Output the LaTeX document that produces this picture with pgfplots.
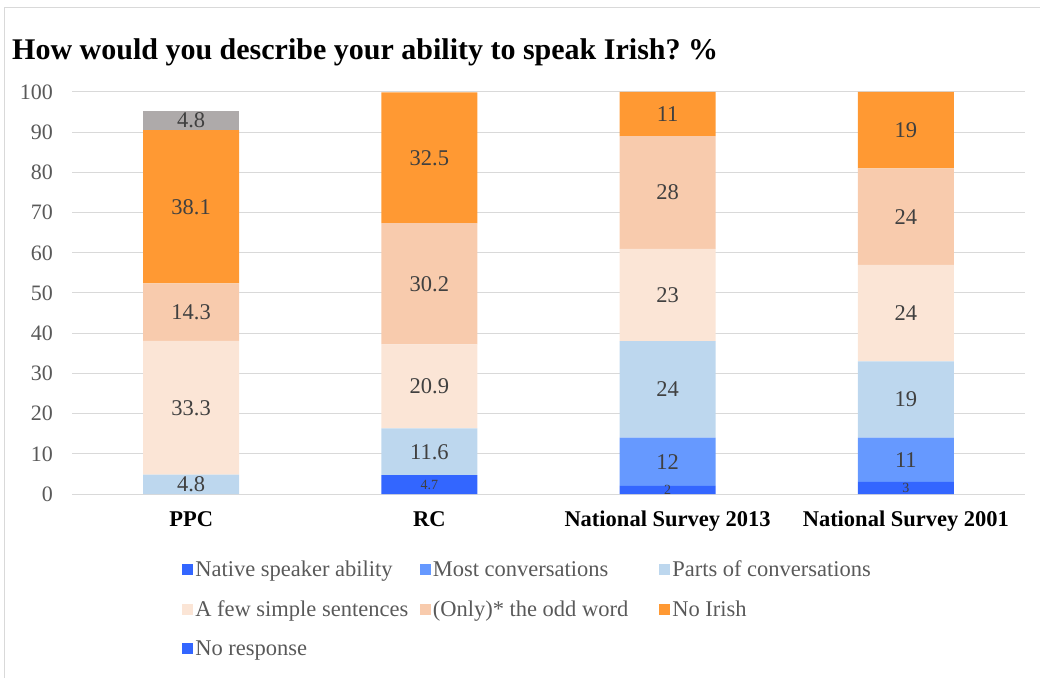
\documentclass[border=0pt]{standalone}
\usepackage{pgfplots}
\pgfplotsset{compat=1.18}
\usepackage{fontspec}
\setmainfont{Liberation Serif}
\frenchspacing
\definecolor{cNative}{RGB}{51,102,255}
\definecolor{cMost}{RGB}{102,153,255}
\definecolor{cParts}{RGB}{189,215,238}
\definecolor{cFew}{RGB}{251,229,214}
\definecolor{cOdd}{RGB}{248,203,173}
\definecolor{cNo}{RGB}{255,153,51}
\definecolor{cNR}{RGB}{174,170,170}
\definecolor{cGrid}{RGB}{217,217,217}
\definecolor{cTxt}{RGB}{89,89,89}
\definecolor{cLab}{RGB}{64,64,64}
\newcommand{\LE}[1]{\makebox[218pt][l]{#1}}
\newcommand{\LF}[1]{\makebox[220pt][l]{#1}}
\begin{document}
\begin{tikzpicture}[x=1pt,y=1pt]
\path[use as bounding box] (0,0) rectangle (1040,677);
\draw[cGrid, line width=1pt] (4,-5) -- (4,669) -- (1045,669);
\node[anchor=base west, inner sep=0pt, font=\fontsize{30}{34}\selectfont\bfseries] at (12,617) {How would you describe your ability to speak Irish? \%};
\begin{axis}[
  at={(72pt,183pt)}, anchor=south west,
  scale only axis, width=953pt, height=402pt,
  ybar stacked, bar width=96pt,
  xmin=-0.5, xmax=3.5, ymin=0, ymax=100,
  xtick={0,1,2,3},
  xticklabels={PPC,RC,National Survey 2013,National Survey 2001},
  xticklabel style={font=\fontsize{22.5}{26}\selectfont\bfseries, text=black, inner sep=0pt, yshift=-17pt},
  ytick={0,10,...,100},
  yticklabel style={font=\fontsize{22}{26}\selectfont, text=cTxt, inner sep=0pt, xshift=-19pt},
  /pgf/number format/assume math mode=true,
  major tick length=0pt,
  ymajorgrids, grid style={cGrid, line width=1pt},
  axis line style={draw=none},
  axis x line*=bottom, axis y line*=left,
  legend columns=3,
  legend cell align=left,
  legend style={at={(0.1155,-0.161)}, anchor=north west, draw=none, fill=none,
    font=\fontsize{22.5}{26}\selectfont, text=cTxt, inner sep=0pt, row sep=18.5pt,
    /tikz/every even column/.append style={column sep=4.5pt}},
  legend image code/.code={\fill[#1] (0pt,-5.5pt) rectangle (11pt,5.5pt);},
]
\addplot[fill=cNative, draw=none] coordinates {(0,0) (1,4.7) (2,2) (3,3)};
\addlegendentry{\LE{Native speaker ability}}
\addplot[fill=cMost, draw=none] coordinates {(0,0) (1,0) (2,12) (3,11)};
\addlegendentry{\LF{Most conversations}}
\addplot[fill=cParts, draw=none] coordinates {(0,4.8) (1,11.6) (2,24) (3,19)};
\addlegendentry{Parts of conversations}
\addplot[fill=cFew, draw=none] coordinates {(0,33.3) (1,20.9) (2,23) (3,24)};
\addlegendentry{\LE{A few simple sentences}}
\addplot[fill=cOdd, draw=none] coordinates {(0,14.3) (1,30.2) (2,28) (3,24)};
\addlegendentry{\LF{(Only)* the odd word}}
\addplot[fill=cNo, draw=none] coordinates {(0,38.1) (1,32.5) (2,11) (3,19)};
\addlegendentry{No Irish}
\addplot[fill=cNR, draw=none, legend image code/.code={\fill[cNative] (0pt,-5.5pt) rectangle (11pt,5.5pt);}] coordinates {(0,4.8) (1,0) (2,0) (3,0)};
\addlegendentry{\LE{No response}}
\draw[cGrid, line width=1pt] (axis cs:-0.5,0) -- (axis cs:3.5,0);
\end{axis}
\begin{axis}[
  at={(72pt,183pt)}, anchor=south west,
  scale only axis, width=953pt, height=402pt,
  xmin=-0.5, xmax=3.5, ymin=0, ymax=100,
  hide axis,
]
\addplot[draw=none, mark=none, nodes near coords, point meta=explicit symbolic,
  nodes near coords align=center,
  every node near coord/.append style={font=\fontsize{22.5}{26}\selectfont, text=cLab, inner sep=0pt}]
coordinates {
(0,2.4) [4.8] (0,21.45) [33.3] (0,45.25) [14.3] (0,71.45) [38.1] (0,92.9) [4.8]
(1,10.5) [11.6] (1,26.75) [20.9] (1,52.3) [30.2] (1,83.65) [32.5]
(2,8) [12] (2,26) [24] (2,49.5) [23] (2,75) [28] (2,94.5) [11]
(3,8.5) [11] (3,23.5) [19] (3,45) [24] (3,69) [24] (3,90.5) [19]
};
\addplot[draw=none, mark=none, nodes near coords, point meta=explicit symbolic,
  nodes near coords align=center,
  every node near coord/.append style={font=\fontsize{14}{16}\selectfont, text=cLab, inner sep=0pt}]
coordinates {(1,2.35) [4.7] (2,1) [2] (3,1.5) [3]};
\end{axis}
\end{tikzpicture}
\end{document}
